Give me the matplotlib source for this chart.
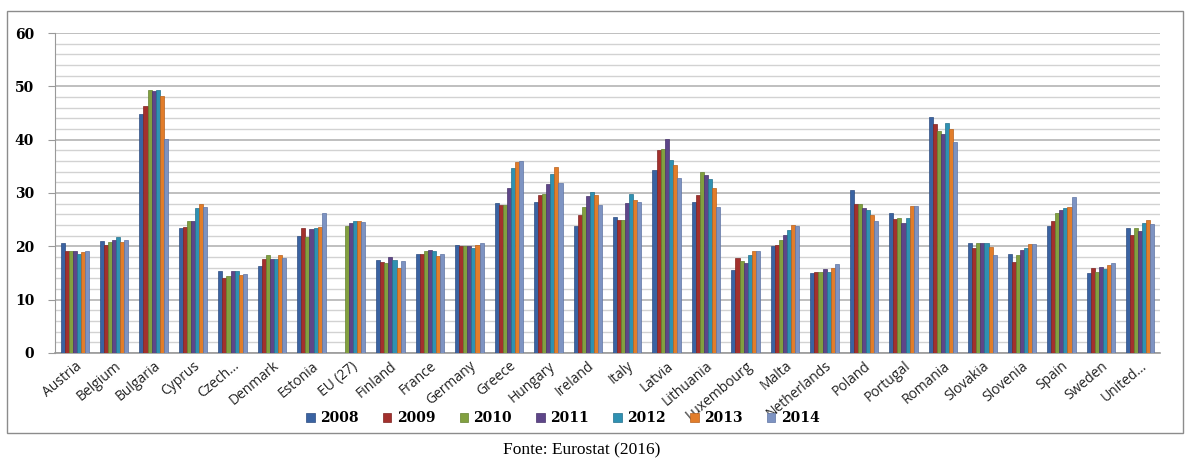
import numpy as np
import matplotlib.pyplot as plt
from matplotlib.patches import Rectangle

countries = ['Austria', 'Belgium', 'Bulgaria', 'Cyprus', 'Czech...', 'Denmark', 'Estonia',
             'EU (27)', 'Finland', 'France', 'Germany', 'Greece', 'Hungary', 'Ireland',
             'Italy', 'Latvia', 'Lithuania', 'Luxembourg', 'Malta', 'Netherlands', 'Poland',
             'Portugal', 'Romania', 'Slovakia', 'Slovenia', 'Spain', 'Sweden', 'United...']
years = ['2008', '2009', '2010', '2011', '2012', '2013', '2014']

v2008 = [20.6, 21.0, 44.9, 23.4, 15.4, 16.4, 21.9, np.nan, 17.5, 18.6, 20.2, 28.2, 28.4, 23.9,
         25.5, 34.4, 28.4, 15.6, 20.1, 15.0, 30.6, 26.2, 44.2, 20.6, 18.6, 23.9, 15.0, 23.4]
v2009 = [19.2, 20.3, 46.4, 23.7, 14.0, 17.6, 23.5, np.nan, 17.1, 18.6, 20.0, 27.7, 29.7, 25.9,
         25.0, 38.0, 29.6, 17.9, 20.3, 15.1, 28.0, 25.1, 43.0, 19.6, 17.1, 24.7, 16.0, 22.1]
v2010 = [19.2, 20.9, 49.3, 24.7, 14.5, 18.4, 21.8, 23.8, 16.9, 19.2, 20.0, 27.7, 29.8, 27.4,
         24.9, 38.2, 34.0, 17.2, 21.2, 15.1, 28.0, 25.3, 41.6, 20.6, 18.4, 26.2, 15.1, 23.4]
v2011 = [19.2, 21.1, 49.2, 24.7, 15.4, 17.6, 23.2, 24.4, 18.0, 19.4, 20.0, 31.0, 31.6, 29.5,
         28.2, 40.2, 33.3, 16.8, 22.2, 15.7, 27.2, 24.4, 41.0, 20.6, 19.4, 26.8, 16.2, 22.9]
v2012 = [18.6, 21.7, 49.4, 27.2, 15.4, 17.6, 23.4, 24.7, 17.4, 19.2, 19.7, 34.7, 33.6, 30.1,
         29.9, 36.2, 32.7, 18.3, 23.1, 15.1, 26.8, 25.3, 43.2, 20.6, 19.7, 27.2, 15.7, 24.3]
v2013 = [18.9, 20.9, 48.1, 28.0, 14.7, 18.4, 23.7, 24.7, 15.9, 18.1, 20.3, 35.9, 34.9, 29.7,
         28.6, 35.2, 30.9, 19.1, 24.0, 16.0, 25.9, 27.6, 42.0, 19.9, 20.4, 27.4, 16.5, 24.9]
v2014 = [19.2, 21.2, 40.2, 27.4, 14.8, 17.9, 26.2, 24.5, 17.3, 18.6, 20.6, 36.0, 31.9, 27.7,
         28.4, 32.8, 27.4, 19.1, 23.9, 16.6, 24.7, 27.6, 39.6, 18.4, 20.4, 29.3, 16.9, 24.2]
series = [v2008, v2009, v2010, v2011, v2012, v2013, v2014]

colors = ['#3a63a2', '#a3302d', '#82a040', '#5e4689', '#2f91b2', '#e27d2a', '#7d93c2']
edges = ['#2c4c80', '#7e2321', '#64802e', '#47336b', '#23708c', '#b8611c', '#5f74a3']

fig = plt.figure(figsize=(11.85, 4.63), dpi=100)
ax = fig.add_axes([55 / 1185, 110 / 463, 1105 / 1185, 320 / 463])

# outer frame around chart
fig.patches.append(Rectangle((7 / 1185, 30 / 463), 1176 / 1185, 422 / 463,
                             transform=fig.transFigure, fill=False,
                             edgecolor='#8c8c8c', linewidth=1.0))

x = np.arange(len(countries))
bw = 0.103
for i, (vals, c, ec, yr) in enumerate(zip(series, colors, edges, years)):
    ax.bar(x + (i - 3) * bw, vals, width=bw, color=c, label=yr, zorder=3,
           edgecolor=ec, linewidth=0.5)

ax.set_xlim(-0.5, len(countries) - 0.5)
ax.set_ylim(0, 60)
ax.set_yticks(range(0, 61, 10))
ax.set_yticks(range(0, 61, 2), minor=True)
ax.grid(axis='y', which='minor', color='#d2d2d2', linewidth=1.0, zorder=0)
ax.grid(axis='y', which='major', color='#b4b4b4', linewidth=1.2, zorder=0)
ax.tick_params(axis='y', which='minor', length=0)
ax.tick_params(axis='y', which='major', length=5, color='#999999', pad=10)
for s in ['top', 'right']:
    ax.spines[s].set_visible(False)
ax.spines['left'].set_color('#999999')
ax.spines['bottom'].set_color('#999999')
ax.spines['bottom'].set_linewidth(1.2)

for lab in ax.get_yticklabels():
    lab.set_family('DejaVu Serif')
    lab.set_fontweight('bold')
    lab.set_fontsize(10)

ax.set_xticks(x)
ax.set_xticklabels(countries, rotation=40, ha='right', rotation_mode='anchor',
                   fontsize=10, family='Open Sans', color='#222222')
ax.tick_params(axis='x', length=0, pad=4)

leg = fig.legend(loc='center', bbox_to_anchor=(563 / 1185, 1 - 418 / 463), ncol=7,
                 frameon=False, handlelength=0.6, handleheight=0.6, handletextpad=0.4,
                 columnspacing=1.75, prop={'family': 'DejaVu Serif', 'weight': 'bold', 'size': 10})

fig.text(582 / 1185, 1 - 450 / 463, 'Fonte: Eurostat (2016)', ha='center', va='center',
         family='Liberation Serif', fontsize=12.5)

fig.savefig('out.png', dpi=100)
